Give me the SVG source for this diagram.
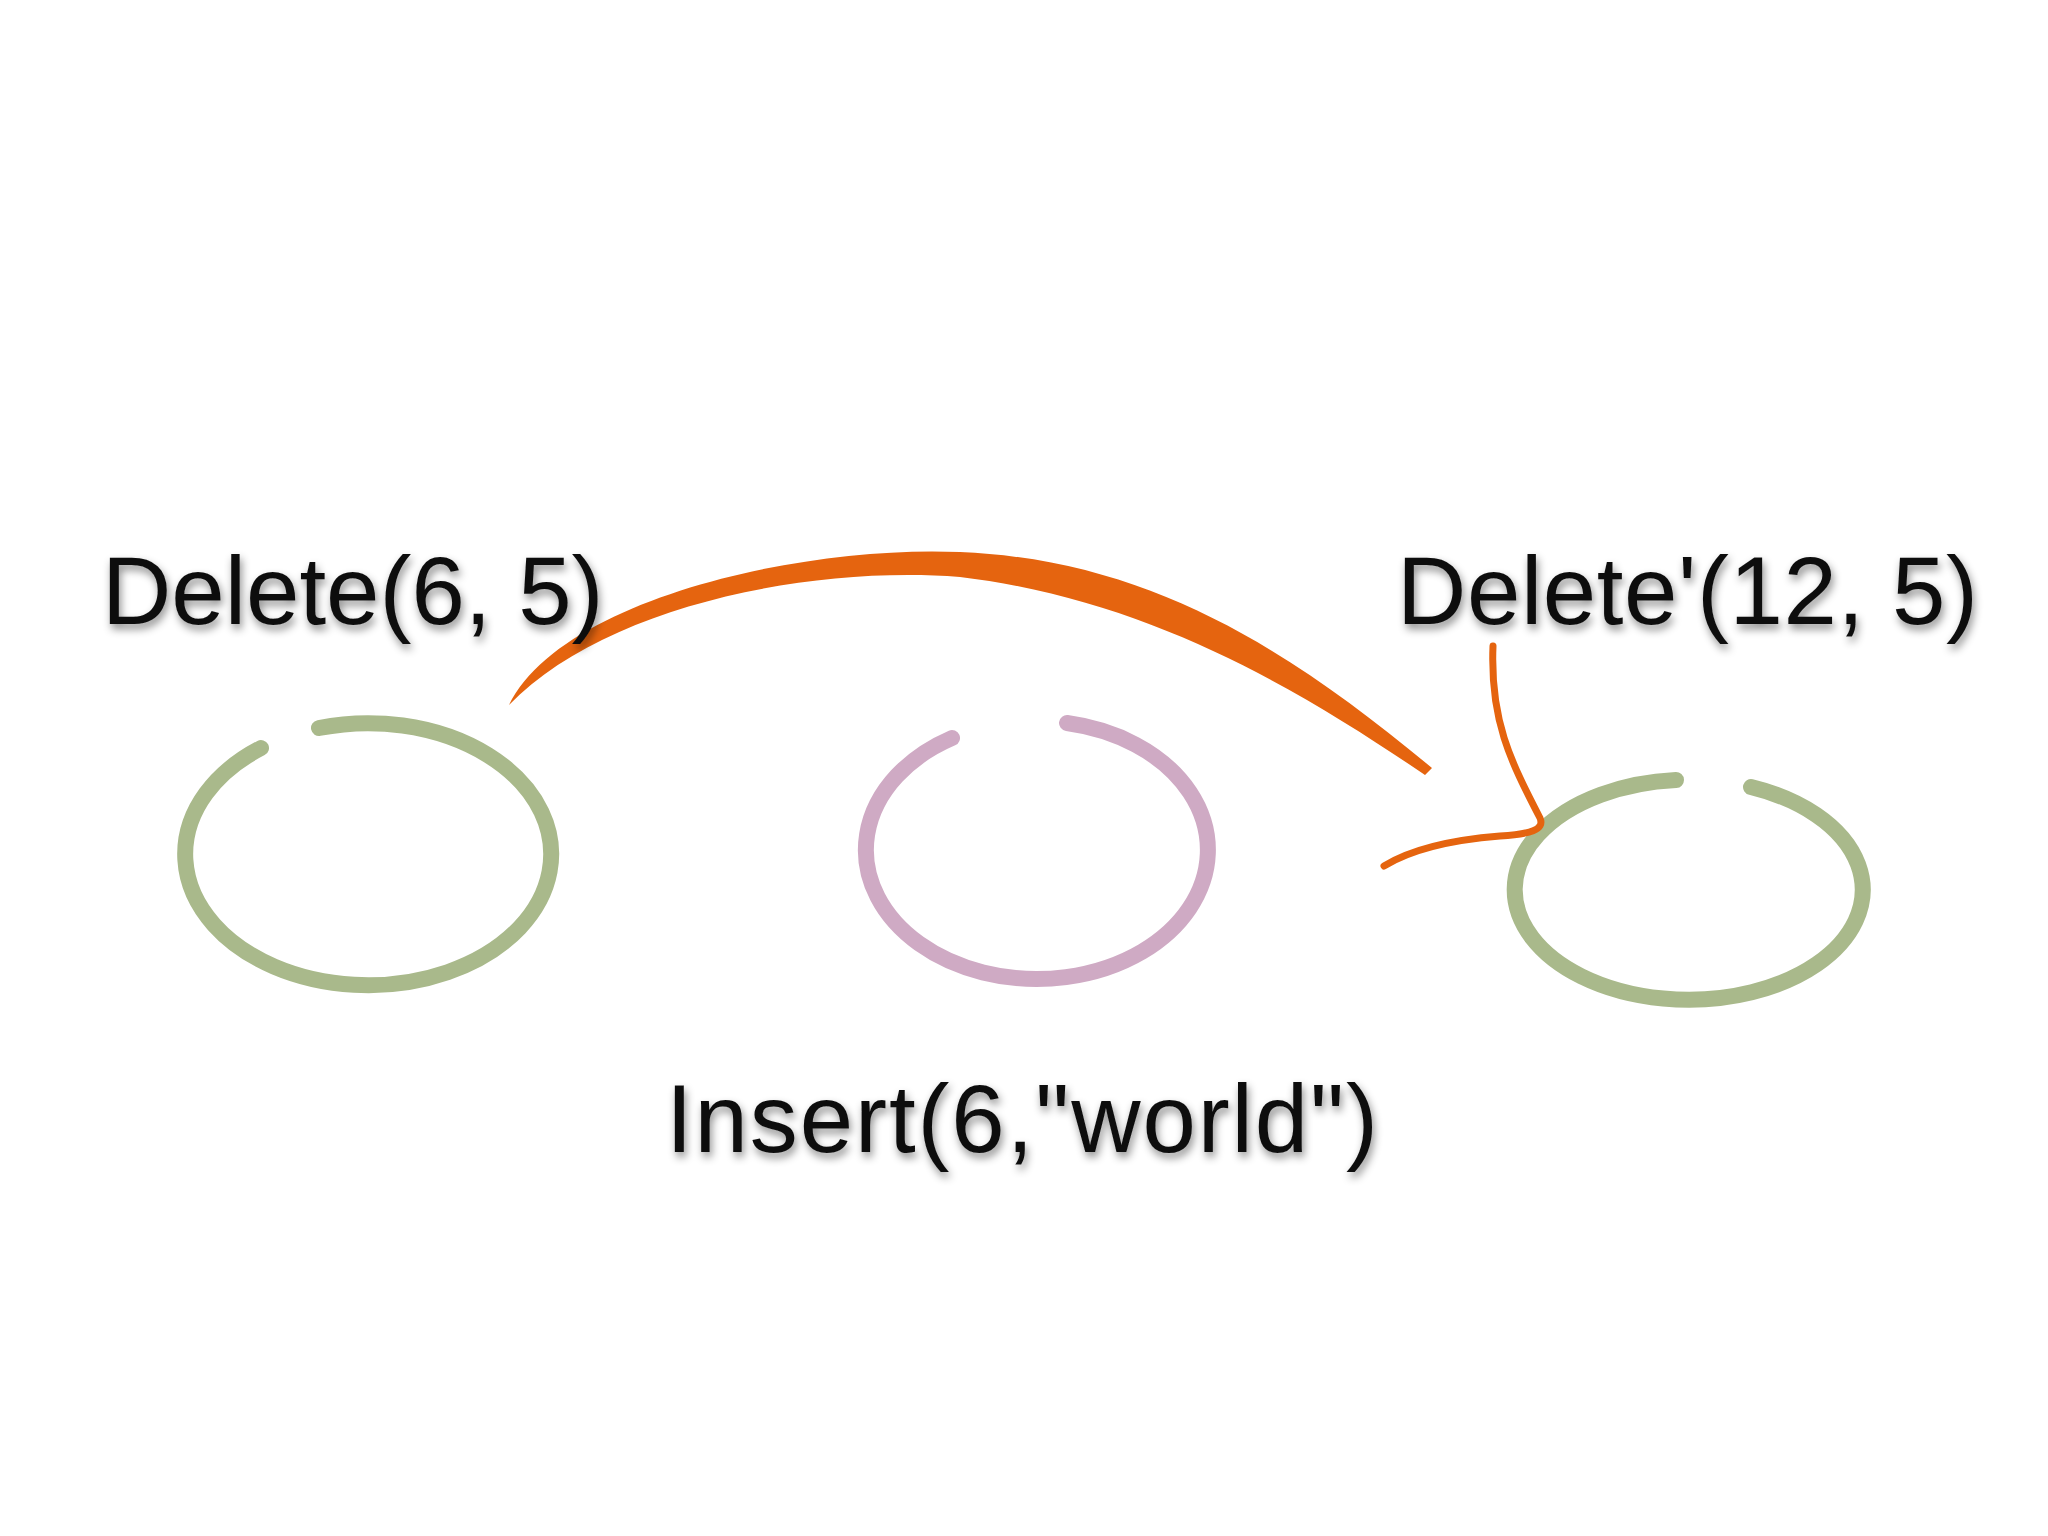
<svg xmlns="http://www.w3.org/2000/svg" width="2048" height="1536" viewBox="0 0 2048 1536">
<defs>
<filter id="sh" x="-10%" y="-20%" width="120%" height="150%"><feDropShadow dx="2" dy="5" stdDeviation="4" flood-color="#000" flood-opacity="0.45"/></filter>
<style>
.lbl{font-family:"Liberation Sans",Arial,sans-serif;font-size:96px;fill:#111;filter:url(#sh)}
.g{fill:none;stroke:#a9b98b;stroke-width:16;stroke-linecap:round}
.p{fill:none;stroke:#cfaac4;stroke-width:16;stroke-linecap:round}
</style>
</defs>
<rect width="2048" height="1536" fill="#fff"/>
<g id="n1"><path class="g" d="M319,728 A183,131 0 1 1 261,748"/></g>
<g id="n2"><path class="p" d="M1067,723 A171,129 0 1 1 952,738"/></g>
<g id="n3"><path class="g" d="M1751,787 A174,110 0 1 1 1676,780"/></g>
<g id="connectors">
<path fill="#e5640f" d="M509,705 C560,600 800,545 960,552 C1150,560 1290,650 1432,768 L1425,775 C1300,690 1150,600 960,577 C800,565 600,610 509,705 Z"/>
<path fill="none" stroke="#e5640f" stroke-width="7" stroke-linecap="round" d="M1493,646 C1490,720 1510,760 1540,818 C1545,830 1530,834 1500,836 C1450,840 1410,850 1384,866"/>
</g>
<g id="labels">
<text class="lbl" x="102" y="624">Delete(6, 5)</text>
<text class="lbl" x="1397" y="624" textLength="581">Delete'(12, 5)</text>
<text class="lbl" x="666" y="1152" textLength="712">Insert(6,"world")</text>
</g>
</svg>
